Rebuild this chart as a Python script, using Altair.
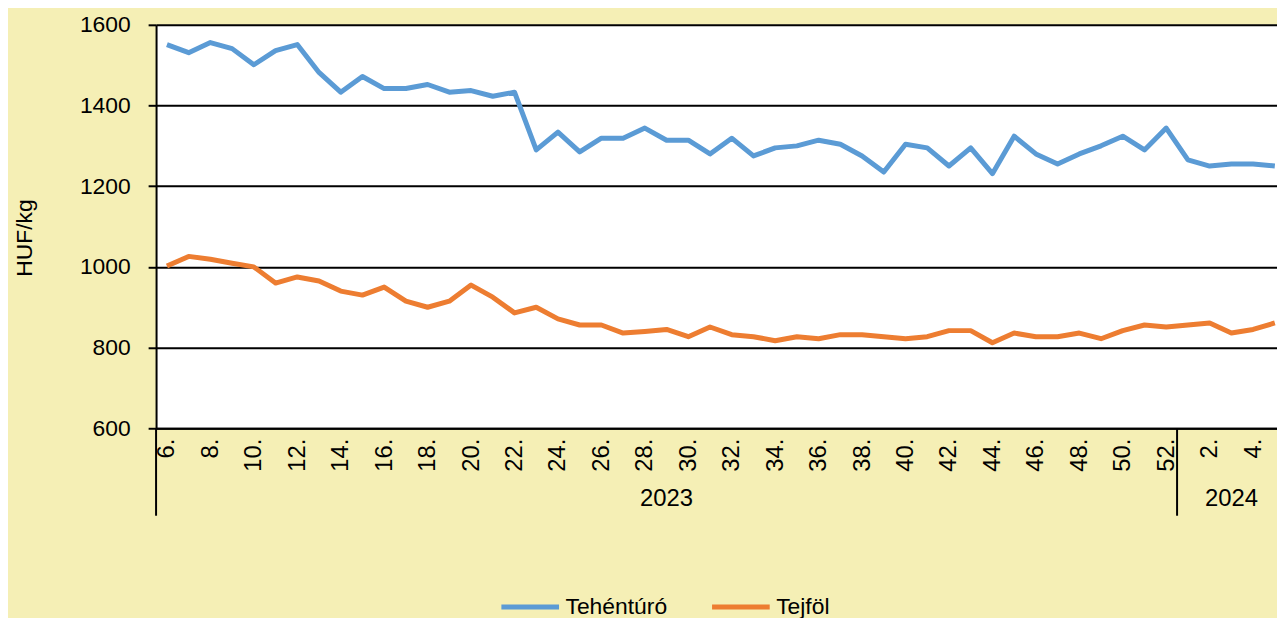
import altair as alt
import pandas as pd

# --- data ---
week_labels = ["6.", "7.", "8.", "9.", "10.", "11.", "12.", "13.", "14.", "15.", "16.", "17.",
               "18.", "19.", "20.", "21.", "22.", "23.", "24.", "25.", "26.", "27.", "28.", "29.",
               "30.", "31.", "32.", "33.", "34.", "35.", "36.", "37.", "38.", "39.", "40.", "41.",
               "42.", "43.", "44.", "45.", "46.", "47.", "48.", "49.", "50.", "51.", "52.",
               "1.", "2.", "3.", "4.", "5."]
week_years = ["2023"] * 47 + ["2024"] * 5

tehenturo = [1551, 1531, 1556, 1541, 1501, 1536, 1551, 1482, 1433, 1472, 1442, 1442,
             1452, 1433, 1437, 1423, 1433, 1290, 1334, 1285, 1319, 1319, 1344, 1314,
             1314, 1280, 1319, 1275, 1295, 1300, 1314, 1304, 1275, 1235, 1304, 1295,
             1250, 1295, 1231, 1324, 1280, 1255, 1280, 1300, 1324, 1290, 1344,
             1265, 1250, 1255, 1255, 1250]
tejfol = [1002, 1026, 1019, 1009, 1000, 960, 975, 965, 940, 930, 950, 915,
          900, 915, 955, 925, 886, 900, 871, 856, 856, 836, 840, 845,
          827, 851, 832, 827, 817, 827, 822, 832, 832, 827, 822, 827,
          842, 842, 812, 836, 827, 827, 836, 822, 842, 856, 851,
          856, 861, 836, 845, 861]

series_names = ["Tehéntúró", "Tejföl"]
series_colors = ["#5B9BD5", "#ED7D31"]
y_ticks = [600, 800, 1000, 1200, 1400, 1600]

# --- tables ---
n = len(week_labels)
rows = []
for name, vals in zip(series_names, [tehenturo, tejfol]):
    for i, v in enumerate(vals):
        rows.append({"idx": i, "week": week_labels[i], "year": week_years[i],
                     "series": name, "value": v})
df = pd.DataFrame(rows)

wk = pd.DataFrame({"idx": list(range(n)), "year": week_years})
grp = wk.groupby("year")["idx"].agg(["min", "max"]).reset_index()
grp["start"] = grp["min"] - 0.5
grp["end"] = grp["max"] + 0.5
grp["mid"] = (grp["start"] + grp["end"]) / 2
bounds = pd.DataFrame({"b": sorted(set(grp["start"].tolist()) | set(grp["end"].tolist()[:-1]))})

label_array = "[" + ",".join("'" + s + "'" for s in week_labels) + "]"
tick_vals = list(range(0, n - 1, 2))

FONT = "Liberation Sans"
BG = "#F5EFB5"
FS = 23

xscale = alt.Scale(domain=[-0.5, n - 0.9], nice=False, zero=False)
yscale = alt.Scale(domain=[600, 1600], nice=False, zero=False)

lines = alt.Chart(df).mark_line(strokeWidth=5, clip=True, strokeJoin="round").encode(
    x=alt.X("idx:Q", scale=xscale,
            axis=alt.Axis(values=tick_vals, labelExpr=label_array + "[datum.value]",
                          labelAngle=-90, labelAlign="right", labelBaseline="middle",
                          labelFontSize=24, labelPadding=10, labelColor="black",
                          ticks=False, grid=False, domainColor="black", domainWidth=2,
                          title=None, labelFont=FONT)),
    y=alt.Y("value:Q", scale=yscale,
            axis=alt.Axis(values=y_ticks, format="d", grid=True, gridColor="black", gridWidth=2,
                          tickColor="black", tickWidth=2, tickSize=8,
                          domainColor="black", domainWidth=2,
                          labelFontSize=FS, labelPadding=18, labelColor="black", labelFont=FONT,
                          title="HUF/kg", titleFontSize=FS, titleFontWeight="normal",
                          titleFont=FONT, titleColor="black",
                          titleX=-132, titleY=214, titleAngle=-90,
                          titleAlign="center", titleBaseline="middle")),
    color=alt.Color("series:N", sort=series_names,
                    scale=alt.Scale(domain=series_names, range=series_colors),
                    legend=alt.Legend(orient="none", legendX=345, legendY=554,
                                      direction="horizontal", title=None,
                                      symbolType="stroke", symbolSize=3364,
                                      symbolStrokeWidth=5, labelFontSize=FS,
                                      labelFont=FONT, labelColor="black",
                                      labelOffset=4, columnPadding=34, padding=0)),
    detail="series:N",
)

year_text = alt.Chart(grp).mark_text(fontSize=24, font=FONT, color="black",
                                     baseline="middle", align="center").encode(
    x=alt.X("mid:Q", scale=xscale),
    y=alt.value(477),
    text="year:N",
)

seps = alt.Chart(bounds).mark_rule(color="black", strokeWidth=2).encode(
    x=alt.X("b:Q", scale=xscale),
    y=alt.value(406),
    y2=alt.value(494),
)

chart = alt.layer(lines, year_text, seps).properties(
    width=1128, height=406,
    autosize=alt.AutoSizeParams(type="none"),
    padding={"left": 149, "top": 15, "right": 0, "bottom": 189},
    background=BG,
).configure_view(fill="white", stroke=None)

chart.save("out.html", embed_options={"renderer": "svg", "actions": False})
